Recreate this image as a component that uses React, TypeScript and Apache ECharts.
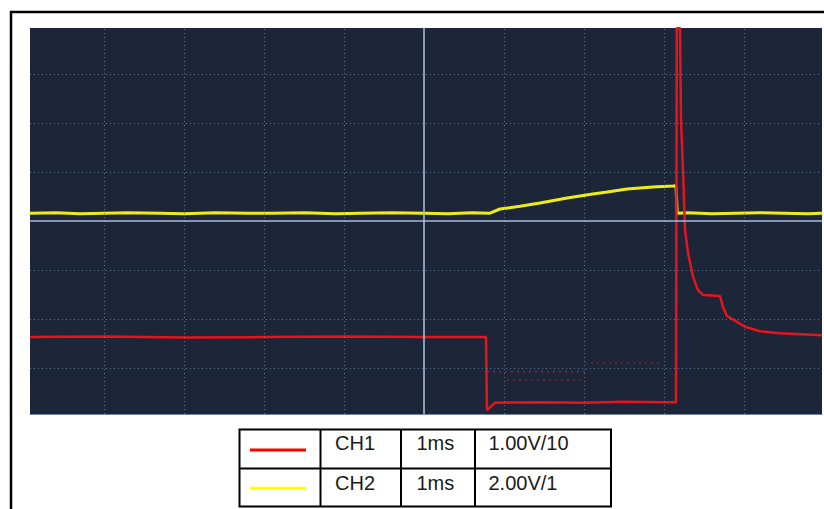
import { useEffect, useRef } from "react";
import * as echarts from "echarts";

// Screen range in divisions (time: 1 ms/div, amplitude: divisions)
const X_MIN = -4.925;
const X_MAX = 4.975;
const Y_MIN = -3.94;
const Y_MAX = 3.94;

const gridDivX = [-4, -3, -2, -1, 1, 2, 3, 4];
const gridDivY = [-3, -2, -1, 1, 2, 3];

// CH2 (yellow)
const ch2Time = [-4.925, -4.6, -4.3, -4.0, -3.7, -3.3, -3.0, -2.6, -2.2, -1.9, -1.5, -1.1, -0.8, -0.4, 0.0, 0.3, 0.6, 0.825, 0.95, 1.2, 1.45, 1.79, 2.11, 2.29, 2.54, 2.86, 3.11, 3.15, 3.165, 3.3, 3.6, 3.9, 4.2, 4.5, 4.8, 4.975];
const ch2Level = [0.16, 0.17, 0.15, 0.16, 0.17, 0.16, 0.15, 0.17, 0.16, 0.16, 0.17, 0.15, 0.16, 0.17, 0.16, 0.15, 0.17, 0.16, 0.245, 0.3, 0.367, 0.469, 0.551, 0.592, 0.653, 0.694, 0.714, 0.72, 0.16, 0.17, 0.15, 0.16, 0.17, 0.16, 0.15, 0.16];

// CH1 (red)
const ch1Time = [-4.925, -4.0, -3.0, -2.0, -1.0, 0.0, 0.775, 0.7875, 0.8, 0.89, 1.5, 2.0, 2.5, 3.0, 3.15, 3.16, 3.2, 3.2125, 3.2375, 3.2563, 3.2625, 3.3, 3.3625, 3.425, 3.4875, 3.7, 3.7375, 3.7875, 3.9125, 4.0125, 4.2, 4.45, 4.975];
const ch1Level = [-2.37, -2.36, -2.38, -2.37, -2.36, -2.37, -2.37, -3.86, -3.84, -3.71, -3.7, -3.71, -3.69, -3.7, -3.7, 3.94, 3.94, 2.06, 1.04, 0.12, -0.18, -0.65, -1.14, -1.41, -1.51, -1.53, -1.76, -1.94, -2.06, -2.16, -2.25, -2.29, -2.33];

// faint persistence traces of CH1
const ghostATime = [0.7875, 2.0125];
const ghostALevel = [-3.08, -3.08];
const ghostBTime = [1.0375, 2.0125];
const ghostBLevel = [-3.245, -3.245];
const ghostCTime = [2.0125, 2.9625];
const ghostCLevel = [-2.9, -2.9];

// legend table
const channelNames = ["CH1", "CH2"];
const timebases = ["1ms", "1ms"];
const voltScales = ["1.00V/10", "2.00V/1"];

const RED = "#e8141b";
const YELLOW = "#eeee14";
const LEGEND_COLORS = ["#ff0000", "#ffff00"];
const FONT = '20px "Liberation Sans", Arial, sans-serif';

const pairs = (xs: number[], ys: number[]) => xs.map((x, i) => [x, ys[i]]);

export default function App() {
  const ref = useRef<HTMLDivElement>(null);

  useEffect(() => {
    document.body.style.margin = "0";
    if (!ref.current) return;
    const chart = echarts.init(ref.current, undefined, { renderer: "svg" });

    const rowY = [443.2, 483.2];
    const tableGraphics: any[] = [
      {
        type: "rect",
        shape: { x: 239.5, y: 429.5, width: 371.5, height: 77 },
        style: { fill: "none", stroke: "#000", lineWidth: 2 },
      },
      { type: "line", shape: { x1: 239.5, y1: 468.5, x2: 611, y2: 468.5 }, style: { stroke: "#000", lineWidth: 2 } },
      { type: "line", shape: { x1: 320.5, y1: 429.5, x2: 320.5, y2: 506.5 }, style: { stroke: "#000", lineWidth: 2 } },
      { type: "line", shape: { x1: 401, y1: 429.5, x2: 401, y2: 506.5 }, style: { stroke: "#000", lineWidth: 2 } },
      { type: "line", shape: { x1: 475, y1: 429.5, x2: 475, y2: 506.5 }, style: { stroke: "#000", lineWidth: 2 } },
    ];
    channelNames.forEach((name, i) => {
      const y = [450, 488.3][i];
      tableGraphics.push({
        type: "line",
        shape: { x1: 250, y1: y, x2: 306, y2: y },
        style: { stroke: LEGEND_COLORS[i], lineWidth: 3 },
      });
      tableGraphics.push({
        type: "text",
        x: 335,
        y: rowY[i],
        style: { text: name, font: FONT, fill: "#1a1a1a", textAlign: "left", textVerticalAlign: "middle" },
      });
      tableGraphics.push({
        type: "text",
        x: 416.5,
        y: rowY[i],
        style: { text: timebases[i], font: FONT, fill: "#1a1a1a", textAlign: "left", textVerticalAlign: "middle" },
      });
      tableGraphics.push({
        type: "text",
        x: 488.5,
        y: rowY[i],
        style: { text: voltScales[i], font: FONT, fill: "#1a1a1a", textAlign: "left", textVerticalAlign: "middle" },
      });
    });

    chart.setOption({
      animation: false,
      backgroundColor: "#ffffff",
      grid: {
        left: 30,
        top: 28,
        width: 792,
        height: 386,
        show: true,
        backgroundColor: "#1d2638",
        borderWidth: 0,
      },
      xAxis: {
        type: "value",
        min: X_MIN,
        max: X_MAX,
        axisLine: { show: true, onZero: false, lineStyle: { color: "#7488a6", width: 1 } },
        axisTick: { show: false },
        axisLabel: { show: false },
        splitLine: { show: false },
      },
      yAxis: {
        type: "value",
        min: Y_MIN,
        max: Y_MAX,
        axisLine: { show: false },
        axisTick: { show: false },
        axisLabel: { show: false },
        splitLine: { show: false },
      },
      graphic: [
        {
          type: "rect",
          shape: { x: 11, y: 12, width: 840, height: 520 },
          style: { fill: "none", stroke: "#000", lineWidth: 2.5 },
          z: 100,
        },
        ...tableGraphics,
      ],
      series: [
        {
          name: "grid",
          type: "line",
          data: [],
          silent: true,
          markLine: {
            silent: true,
            symbol: "none",
            label: { show: false },
            lineStyle: { color: "rgba(120,140,172,0.75)", type: [1, 3], width: 1 },
            data: [
              ...gridDivX.map((v) => ({ xAxis: v })),
              ...gridDivY.map((v) => ({ yAxis: v })),
            ],
          },
        },
        {
          name: "center",
          type: "line",
          data: [],
          silent: true,
          markLine: {
            silent: true,
            symbol: "none",
            label: { show: false },
            lineStyle: { color: "#a6bbd8", type: "solid", width: 1.6 },
            data: [{ xAxis: 0 }, { yAxis: 0 }],
          },
        },
        {
          name: "ghostA",
          type: "line",
          data: pairs(ghostATime, ghostALevel),
          showSymbol: false,
          lineStyle: { color: "rgba(210,40,50,0.55)", width: 1.5, type: [2, 4] },
        },
        {
          name: "ghostB",
          type: "line",
          data: pairs(ghostBTime, ghostBLevel),
          showSymbol: false,
          lineStyle: { color: "rgba(210,40,50,0.5)", width: 1.5, type: [2, 4] },
        },
        {
          name: "ghostC",
          type: "line",
          data: pairs(ghostCTime, ghostCLevel),
          showSymbol: false,
          lineStyle: { color: "rgba(210,40,50,0.5)", width: 1.5, type: [2, 4] },
        },
        {
          name: "CH2",
          type: "line",
          data: pairs(ch2Time, ch2Level),
          showSymbol: false,
          lineStyle: { color: YELLOW, width: 3 },
        },
        {
          name: "CH1",
          type: "line",
          data: pairs(ch1Time, ch1Level),
          showSymbol: false,
          lineStyle: { color: RED, width: 2.5 },
        },
      ],
    });

    return () => chart.dispose();
  }, []);

  return <div ref={ref} style={{ width: 824, height: 509 }} />;
}
